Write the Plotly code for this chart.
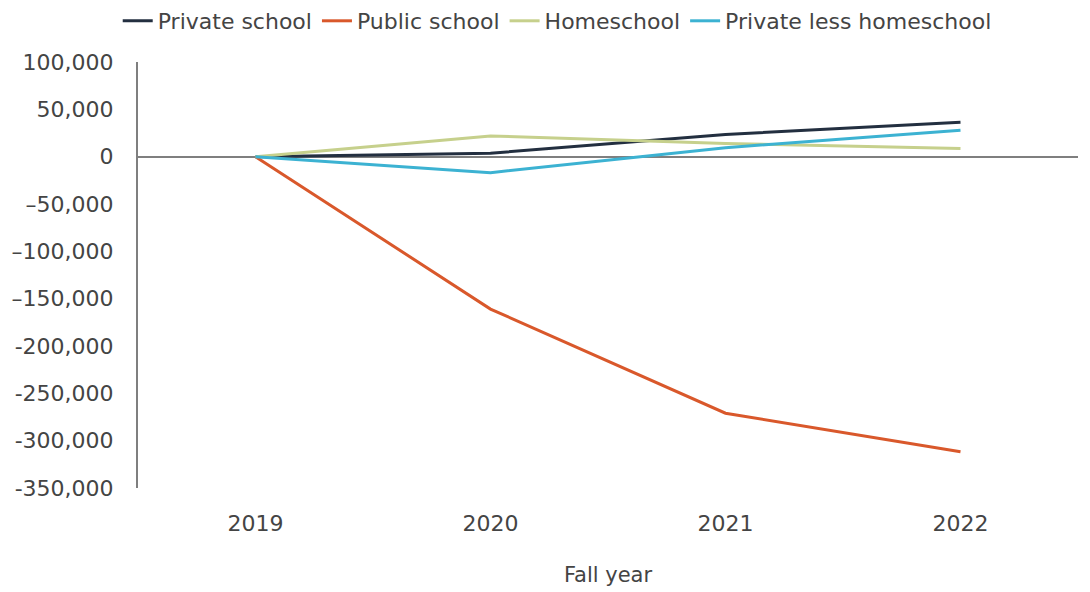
import plotly.graph_objects as go

years = ["2019", "2020", "2021", "2022"]
private_school = [0, 3600, 23500, 36300]
public_school = [0, -161000, -271000, -311600]
homeschool = [0, 21900, 14000, 8500]
private_less_home = [0, -16900, 9500, 27800]

series_names = ["Private school", "Public school", "Homeschool", "Private less homeschool"]
series_colors = ["#232f40", "#d9582b", "#c6d08c", "#3cb2d2"]

ytick_vals = [100000, 50000, 0, -50000, -100000, -150000, -200000, -250000, -300000, -350000]
ytick_text = ["100,000", "50,000", "0", "\u201350,000", "\u2013100,000", "\u2013150,000",
              "-200,000", "-250,000", "-300,000", "-350,000"]

font_family = "'DejaVu Sans', sans-serif"
text_color = "#444444"

fig = go.Figure()
for name, vals, col in zip(series_names,
                           [private_school, public_school, homeschool, private_less_home],
                           series_colors):
    fig.add_trace(go.Scatter(x=years, y=vals, mode="lines", name=name,
                             line=dict(color=col, width=3)))

fig.update_layout(
    width=1090, height=592,
    margin=dict(l=138, r=12, t=62, b=104, autoexpand=False),
    paper_bgcolor="white", plot_bgcolor="white",
    font=dict(family=font_family, size=22, color=text_color),
    showlegend=True,
    legend=dict(orientation="h", xref="container", yref="container",
                x=0.108, xanchor="left", y=1.0, yanchor="top",
                font=dict(size=22, color=text_color),
                itemwidth=30, tracegroupgap=0),
    xaxis=dict(type="category", range=[-0.5, 3.5], showgrid=False, showline=False,
               zeroline=False, ticks="", ticklabelstandoff=20,
               title=dict(text="Fall year", standoff=32, font=dict(size=21, color=text_color))),
    yaxis=dict(range=[-350000, 100000], tickvals=ytick_vals, ticktext=ytick_text,
               showgrid=False, showline=True, linecolor="#7f7f7f", linewidth=2,
               zeroline=True, zerolinecolor="#7f7f7f", zerolinewidth=2,
               ticks="", ticklabelstandoff=18),
)

fig.write_html("out.html")
